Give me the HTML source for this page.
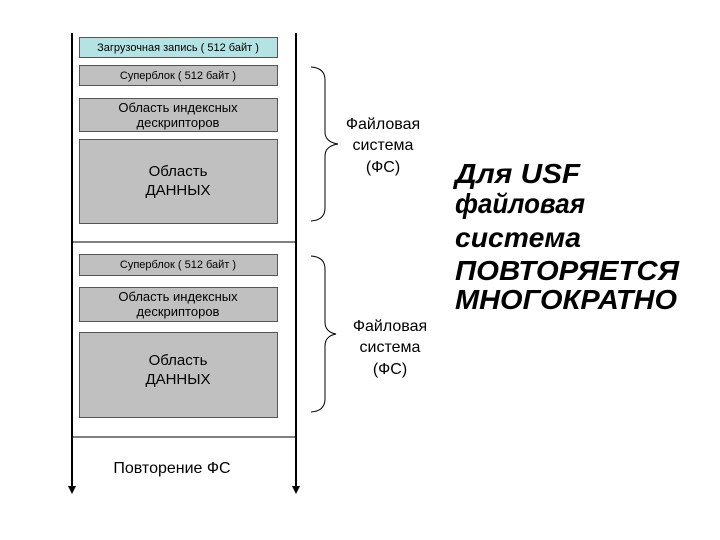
<!DOCTYPE html>
<html><head><meta charset="utf-8"><style>
html,body{margin:0;padding:0;background:#fff;}
svg{display:block;}
text{font-family:"Liberation Sans",sans-serif;}
</style></head><body>
<svg width="720" height="540" viewBox="0 0 720 540" xmlns="http://www.w3.org/2000/svg">
<g stroke="#000" stroke-width="2">
<line x1="72" y1="33" x2="72" y2="486"/>
<line x1="296" y1="33" x2="296" y2="486"/>
<line x1="72" y1="242" x2="296" y2="242" stroke-width="1"/>
<line x1="72" y1="437" x2="296" y2="437" stroke-width="1"/>
</g>
<polygon points="68,486 76,486 72,494" fill="#000"/>
<polygon points="292,486 300,486 296,494" fill="#000"/>
<g stroke="#555" stroke-width="1">
<rect x="79.5" y="37.5" width="198" height="20" fill="#b4e3e3"/>
<rect x="79.5" y="65.5" width="198" height="20" fill="#c0c0c0"/>
<rect x="79.5" y="98.5" width="198" height="33" fill="#c0c0c0"/>
<rect x="79.5" y="139.5" width="198" height="84" fill="#c0c0c0"/>
<rect x="79.5" y="254.5" width="198" height="21" fill="#c0c0c0"/>
<rect x="79.5" y="287.5" width="198" height="34" fill="#c0c0c0"/>
<rect x="79.5" y="332.5" width="198" height="85" fill="#c0c0c0"/>
</g>
<g font-size="11" text-anchor="middle" fill="#000">
<text x="178" y="51">Загрузочная запись  ( 512 байт )</text>
<text x="178" y="79">Суперблок  ( 512 байт )</text>
<text x="178" y="268">Суперблок  ( 512 байт )</text>
</g>
<g font-size="13" text-anchor="middle" fill="#000">
<text x="178" y="112">Область индексных</text>
<text x="178" y="127">дескрипторов</text>
<text x="178" y="301">Область индексных</text>
<text x="178" y="316">дескрипторов</text>
</g>
<g font-size="15" text-anchor="middle" fill="#000">
<text x="178" y="176">Область</text>
<text x="178" y="195">ДАННЫХ</text>
<text x="178" y="365">Область</text>
<text x="178" y="384">ДАННЫХ</text>
<text x="172" y="473" font-size="16">Повторение ФС</text>
</g>
<g fill="none" stroke="#000" stroke-width="1">
<path d="M311,67 Q325,68 325,80 L325,132 Q325,142 338,144 Q325,146 325,156 L325,208 Q325,220 311,221"/>
<path d="M311,256 Q325,257 325,269 L325,322 Q325,332 336,334 Q325,336 325,346 L325,399 Q325,411 311,412"/>
</g>
<g font-size="16" text-anchor="middle" fill="#000">
<text x="383" y="129">Файловая</text>
<text x="383" y="150">система</text>
<text x="383" y="172">(ФС)</text>
<text x="390" y="331">Файловая</text>
<text x="390" y="352">система</text>
<text x="390" y="374">(ФС)</text>
</g>
<g font-size="28" font-weight="bold" font-style="italic" fill="#000">
<text x="455" y="183" textLength="125" lengthAdjust="spacingAndGlyphs">Для USF</text>
<text x="455" y="213" textLength="130" lengthAdjust="spacingAndGlyphs">файловая</text>
<text x="455" y="247" textLength="126" lengthAdjust="spacingAndGlyphs">система</text>
<text x="455" y="280" textLength="224" lengthAdjust="spacingAndGlyphs">ПОВТОРЯЕТСЯ</text>
<text x="455" y="309" textLength="222" lengthAdjust="spacingAndGlyphs">МНОГОКРАТНО</text>
</g>
</svg>
</body></html>
